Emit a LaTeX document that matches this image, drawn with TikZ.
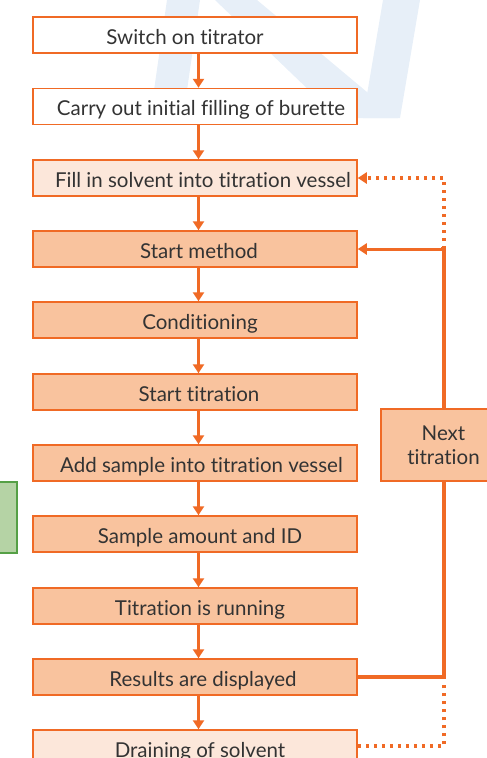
\documentclass[tikz,border=0pt]{standalone}
\usepackage{fontspec}
\setmainfont{Lato}[Ligatures=NoCommon]
\usetikzlibrary{arrows.meta,calc}
\definecolor{org}{HTML}{F06A25}
\definecolor{peach}{HTML}{F9C39E}
\definecolor{lpeach}{HTML}{FCE7DA}
\definecolor{wm}{HTML}{E7EFF8}
\definecolor{gfill}{HTML}{B5D3A5}
\definecolor{gdraw}{HTML}{55A046}
\definecolor{txt}{HTML}{333333}
\tikzset{
  box/.style={draw=org, line width=1.5pt, minimum width=324pt, minimum height=36pt, inner sep=0pt, text=txt, text height=20pt, text depth=2pt, font=\fontsize{20.5}{22}\selectfont},
  wbox/.style={box, fill=white},
  pbox/.style={box, fill=peach},
  lbox/.style={box, fill=lpeach},
  arr/.style={draw=org, line width=3pt, -{Triangle[width=11pt,length=9pt]}},
  loop/.style={draw=org, line width=3.5pt},
  dots/.style={draw=org, line width=3.5pt, dash pattern=on 3.5pt off 4.5pt},
}
\newcommand{\sh}[1]{\hspace*{#1pt}}
\begin{document}
\begin{tikzpicture}[x=1pt,y=-1pt]
\useasboundingbox (0,0) rectangle (487,758);
\clip (0,0) rectangle (487,758);
% watermark
\fill[wm] (150,118) -- (183,118) -- (200,0) -- (167,0) -- cycle;
\fill[wm] (215,0) -- (257,0) -- (398,118) -- (338,118) -- cycle;
\fill[wm] (383,0) -- (420,0) -- (400,118) -- (363,118) -- cycle;
% green box
\node[draw=gdraw, fill=gfill, line width=1.5pt, minimum width=30pt, minimum height=71pt, inner sep=0pt] (g) at (2,517.5) {};
\coordinate (ax) at (198.5,0);
\node[wbox] (s1) at (195,35) {\sh{-20}Switch on titrator};
\node[wbox] (s2) at (195,106.5) {\sh{12}Carry out initial filling of burette};
\node[lbox] (s3) at (195,178) {\sh{16}Fill in solvent into titration vessel};
\node[pbox] (s4) at (195,249) {\sh{8}Start method};
\node[pbox] (s5) at (195,320) {\sh{10}Conditioning};
\node[pbox] (s6) at (195,392) {\sh{8}Start titration};
\node[pbox] (s7) at (195,463) {\sh{13}Add sample into titration vessel};
\node[pbox] (s8) at (195,534) {\sh{10}Sample amount and ID};
\node[pbox] (s9) at (195,606) {\sh{10}Titration is running};
\node[pbox] (s10) at (195,677) {\sh{16}Results are displayed};
\node[lbox] (s11) at (195,748) {\sh{10}Draining of solvent};
\foreach \a/\b in {s1/s2,s2/s3,s3/s4,s4/s5,s5/s6,s6/s7,s7/s8,s8/s9,s9/s10,s10/s11}
  \draw[arr] (\a.south -| ax) -- (\b.north -| ax);
% loops
\coordinate (c1) at (444,677);
\coordinate (c2) at (444,249);
\coordinate (c3) at (444,746);
\coordinate (c4) at (444,178);
\draw[dots] ($(s11.east)+(0,-2)$) -- (c3) -- ($(c1)+(0,4)$);
\draw[dots, -{Triangle[width=11pt,length=9pt]}] (c2) -- (c4) -- (s3.east);
\draw[loop] (s10.east) -- (c1) -- (c2) -- ($(c2)+(-3,0)$);
\draw[arr] (c2) -- (s4.east);
\node[pbox, text height=, text depth=, minimum width=125pt, minimum height=72pt, align=center, font=\fontsize{20.5}{24}\selectfont] (nt) at (443.5,445) {Next\\titration};
\end{tikzpicture}
\end{document}
